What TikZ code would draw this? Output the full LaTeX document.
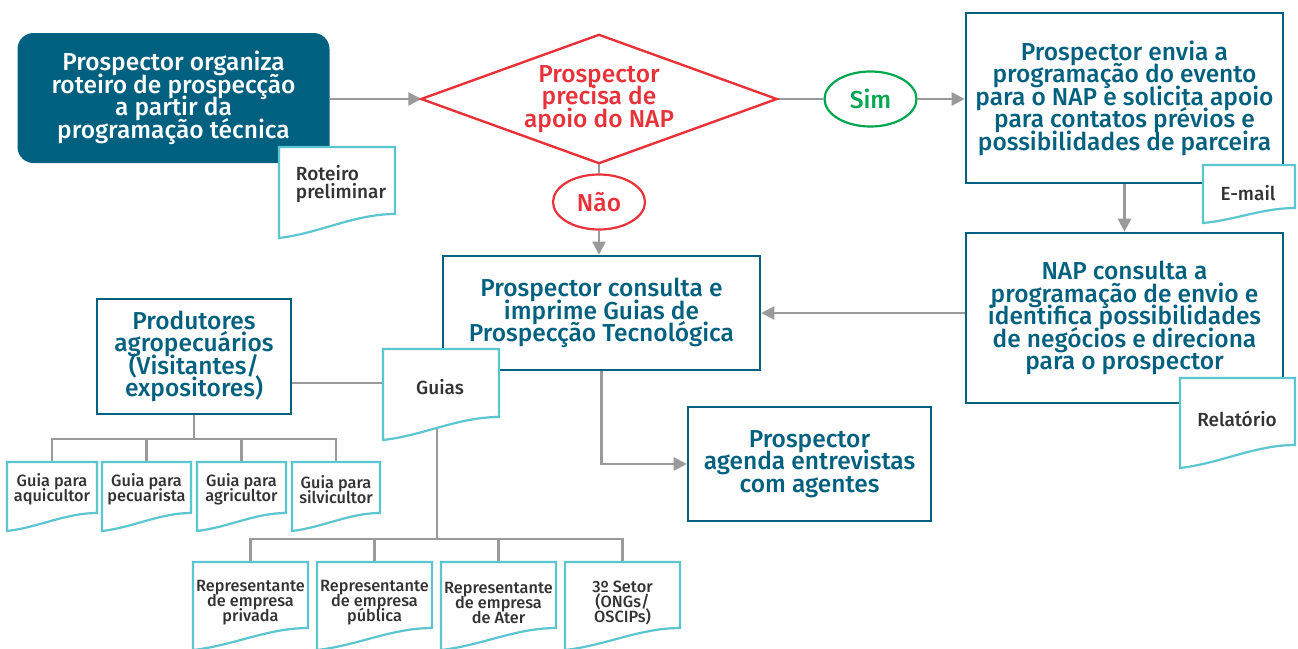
\documentclass[tikz,border=0pt]{standalone}
\usepackage{fontspec}
\setmainfont{Fira Sans Medium}
\usetikzlibrary{arrows.meta,calc,fit,shapes.geometric}
\definecolor{tealc}{HTML}{00607F}
\definecolor{docc}{HTML}{5CC6D0}
\definecolor{redc}{HTML}{E8323A}
\definecolor{greenc}{HTML}{00A650}
\definecolor{grayc}{HTML}{9A9A9A}
\definecolor{darkc}{HTML}{333333}
\newcommand{\tightlines}{\lineskiplimit=-100pt\relax\lineskip=0pt\relax}
\pgfdeclarelayer{bgzero}
\pgfdeclarelayer{background}
\pgfsetlayers{bgzero,background,main}
\tikzset{
  tight/.style={execute at begin node={\tightlines}},
  mainfont/.style={font={\fontsize{24.5}{22.5}\selectfont}, tight},
  box/.style={draw=tealc, line width=2.6pt, text=tealc, mainfont, align=center, inner sep=0pt},
  startbox/.style={fill=tealc, text=white, rounded corners=16pt, mainfont, align=center, inner sep=0pt},
  diamtext/.style={text=redc, mainfont, align=center, inner sep=0pt, minimum width=355pt, minimum height=128pt},
  diamline/.style={draw=redc, line width=2.4pt, line join=miter},
  ell/.style={ellipse, line width=2.2pt, mainfont, inner sep=0pt, minimum width=92pt, minimum height=55pt},
  conn/.style={draw=grayc, line width=2.6pt},
  arr/.style={conn, -{Triangle[length=13pt,width=13pt]}},
  docline/.style={draw=docc, line width=2.2pt, fill=white},
  doctext/.style={text=darkc, font={\fontsize{19}{18}\selectfont}, tight, align=center, inner sep=0pt},
  smalldoc/.style={text=darkc, font={\fontsize{16.3}{15}\selectfont}, tight, align=center, inner sep=0pt},
}
\newcommand{\docshape}[6]{%
  \path[docline] (#2,#3) -- (#4,#3) -- (#4,#5)
    .. controls ({#4-0.35*(#4-#2)},#5) and ({#2+0.35*(#4-#2)},{#5+0.8*#6}) .. (#2,{#5+#6}) -- cycle;
  \node[fit={(#2,#3) (#4,#5)}, inner sep=0pt] (#1) {};
}
\begin{document}
\begin{tikzpicture}[x=1pt,y=-1pt]
\begin{pgfonlayer}{bgzero}
  \fill[white] (0,0) rectangle (1298,648);
\end{pgfonlayer}
\useasboundingbox (0,0) rectangle (1298,648);

% process nodes
\node[startbox, minimum width=312pt, minimum height=130pt] (start) at (173.5,98) {Prospector organiza\\roteiro de prospecção\\a partir da\\programação técnica};
\node[diamtext] (diam) at (599,99) {Prospector\\precisa de\\apoio do NAP};
\draw[diamline] (diam.west) -- (diam.north) -- (diam.east) -- (diam.south) -- cycle;
\node[ell, draw=greenc, text=greenc] (sim) at (870.5,99) {Sim};
\node[ell, draw=redc, text=redc] (nao) at (599,202) {Não};
\node[box, minimum width=317pt, minimum height=170pt] (env) at (1124.5,98) {Prospector envia a\\programação do evento\\para o NAP e solicita apoio\\para contatos prévios e\\possibilidades de parceira};
\node[box, minimum width=317pt, minimum height=170pt] (nap) at (1124.5,318) {NAP consulta a\\programação de envio e\\identifica possibilidades\\de negócios e direciona\\para o prospector};
\node[box, minimum width=317pt, minimum height=114pt] (cons) at (601.5,313) {Prospector consulta e\\imprime Guias de\\Prospecção Tecnológica};
\node[box, minimum width=194pt, minimum height=115pt] (prod) at (194,356.5) {Produtores\\agropecuários\\(Visitantes/\\expositores)};
\node[box, minimum width=243pt, minimum height=114pt] (agen) at (809.5,464) {Prospector\\agenda entrevistas\\com agentes};

% documents
\docshape{rot}{279}{147}{395}{214}{24}
\node[doctext, align=left] (rot-t) at (341,184) {Roteiro\\preliminar};
\docshape{email}{1203}{165}{1295}{208}{15}
\node[doctext] (email-t) at (1248,193) {E-mail};
\docshape{rel}{1180}{378}{1295}{445}{23}
\node[doctext] (rel-t) at (1237,419) {Relatório};
\docshape{guias}{383}{349}{499}{417}{23}
\node[doctext] (guias-t) at (440,387) {Guias};

\docshape{g1}{7}{462}{97}{513}{18}
\node[smalldoc] (g1-t) at (52,489.5) {Guia para\\aquicultor};
\docshape{g2}{102}{462}{191}{513}{18}
\node[smalldoc] (g2-t) at (146.5,489.5) {Guia para\\pecuarista};
\docshape{g3}{197}{462}{286}{513}{18}
\node[smalldoc] (g3-t) at (241.5,489.5) {Guia para\\agricultor};
\docshape{g4}{292}{462}{380}{513}{18}
\node[smalldoc] (g4-t) at (336,489.5) {Guia para\\silvicultor};

\docshape{b1}{193}{562}{308}{628}{22}
\node[smalldoc] (b1-t) at (250.5,603) {Representante\\de empresa\\privada};
\docshape{b2}{317}{562}{432}{628}{22}
\node[smalldoc] (b2-t) at (374.5,603) {Representante\\de empresa\\pública};
\docshape{b3}{441}{562}{556}{628}{22}
\node[smalldoc] (b3-t) at (498.5,603) {Representante\\de empresa\\de Ater};
\docshape{b4}{565}{562}{680}{628}{22}
\node[smalldoc] (b4-t) at (622.5,603) {3º Setor\\(ONGs/\\OSCIPs)};

% connectors
\coordinate (pbus) at (194,439);
\coordinate (gbus) at (437,539);
\begin{pgfonlayer}{background}
\draw[arr] (start.east |- diam.west) -- (diam.west);
\draw[conn] (diam.east) -- (sim.west);
\draw[arr] (sim.east) -- (sim.east -| env.west);
\draw[conn] (diam.south) -- (nao.north);
\draw[arr] (nao.south) -- (nao.south |- cons.north);
\draw[arr] (env.south) -- (nap.north);
\draw[arr] (nap.west |- cons.east) -- (cons.east);
\draw[arr] (cons.south) |- (agen.west);
\draw[conn] (prod.east |- guias.west) -- (guias.west);
\draw[conn] (prod.south) -- (pbus);
\draw[conn] (g1.north) |- (pbus) -| (g4.north);
\draw[conn] (g2.north) -- (g2.north |- pbus);
\draw[conn] (g3.north) -- (g3.north |- pbus);
\draw[conn] (guias.south -| gbus) -- (gbus);
\draw[conn] (b1.north) |- (gbus) -| (b4.north);
\draw[conn] (b2.north) -- (b2.north |- gbus);
\draw[conn] (b3.north) -- (b3.north |- gbus);
\end{pgfonlayer}
\end{tikzpicture}
\end{document}
